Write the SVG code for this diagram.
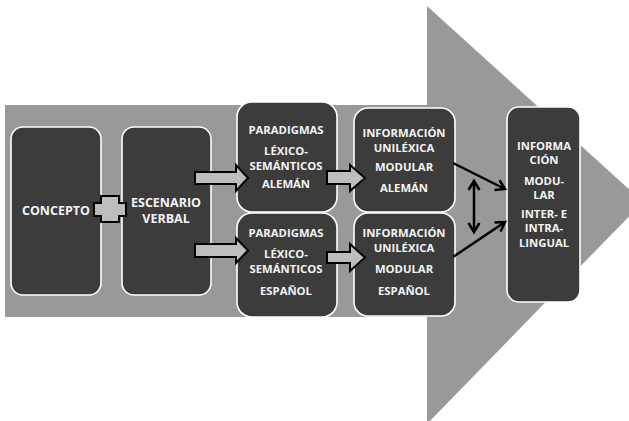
<svg xmlns="http://www.w3.org/2000/svg" width="629" height="421" viewBox="0 0 629 421">
<style>
.bg{fill:#999999}
.node{fill:#3c3c3c;stroke:#ffffff;stroke-width:1.6}
.t{font-family:"Open Sans","Liberation Sans",sans-serif;font-weight:700;fill:#f4f4f4;text-anchor:middle;font-size:11.3px}
.tl{font-size:12.5px}
.blk{fill:#bdbdbd;stroke:#000;stroke-width:2;stroke-linejoin:miter}
.con{fill:none;stroke:#000;stroke-width:2.5}
</style>
<defs>
<marker id="chev" markerUnits="userSpaceOnUse" markerWidth="14" markerHeight="14" refX="11" refY="7" orient="auto-start-reverse">
<path d="M2,1.5 L11,7 L2,12.5" fill="none" stroke="#000" stroke-width="2.5"/>
</marker>
</defs>
<g id="background">
<rect class="bg" x="5" y="105" width="423" height="212"/>
<polygon class="bg" points="427,6 643,202 427,424"/>
</g>
<g id="concepto">
<rect class="node" x="11" y="127" width="90" height="168" rx="12"/>
<text class="t tl" x="56" y="215">CONCEPTO</text>
</g>
<g id="escenario">
<rect class="node" x="122" y="127" width="89" height="168" rx="12"/>
<text class="t tl" x="166" y="207">ESCENARIO</text>
<text class="t tl" x="166" y="223">VERBAL</text>
</g>
<g id="paradigmas-aleman">
<rect class="node" x="237" y="102" width="100" height="110" rx="15"/>
<text class="t" x="286" y="134">PARADIGMAS</text>
<text class="t" x="286" y="155">LÉXICO-</text>
<text class="t" x="286" y="170">SEMÁNTICOS</text>
<text class="t" x="286" y="188">ALEMÁN</text>
</g>
<g id="paradigmas-espanol">
<rect class="node" x="237" y="213" width="100" height="104" rx="15"/>
<text class="t" x="286" y="237">PARADIGMAS</text>
<text class="t" x="286" y="258">LÉXICO-</text>
<text class="t" x="286" y="273">SEMÁNTICOS</text>
<text class="t" x="286" y="295">ESPAÑOL</text>
</g>
<g id="info-aleman">
<rect class="node" x="354" y="108" width="101" height="104" rx="14"/>
<text class="t" x="404" y="137">INFORMACIÓN</text>
<text class="t" x="404" y="152">UNILÉXICA</text>
<text class="t" x="404" y="171">MODULAR</text>
<text class="t" x="404" y="192">ALEMÁN</text>
</g>
<g id="info-espanol">
<rect class="node" x="354" y="213" width="101" height="103" rx="14"/>
<text class="t" x="404" y="237">INFORMACIÓN</text>
<text class="t" x="404" y="252">UNILÉXICA</text>
<text class="t" x="404" y="273">MODULAR</text>
<text class="t" x="404" y="295">ESPAÑOL</text>
</g>
<g id="info-inter-intra">
<rect class="node" x="507" y="107" width="73" height="195" rx="12"/>
<text class="t" x="544" y="150">INFORMA</text>
<text class="t" x="544" y="164">CIÓN</text>
<text class="t" x="544" y="185">MODU-</text>
<text class="t" x="544" y="199">LAR</text>
<text class="t" x="544" y="218">INTER- E</text>
<text class="t" x="544" y="232">INTRA-</text>
<text class="t" x="544" y="247">LINGUAL</text>
</g>
<g id="connectors">
<polygon class="blk" points="94,203 101,203 101,196 119,196 119,203 126,203 126,216 119,216 119,222 101,222 101,216 94,216"/>
<polygon class="blk" points="195,172 236,172 236,165 248,178 236,191 236,184 195,184"/>
<polygon class="blk" points="195,244 236,244 236,238 248,250.5 236,263 236,257 195,257"/>
<polygon class="blk" points="327,171 350,171 350,165 365,178 350,191 350,184 327,184"/>
<polygon class="blk" points="327,252 350,252 350,244 365,257.5 350,271 350,263 327,263"/>
<line class="con" x1="453" y1="163" x2="505" y2="189" marker-end="url(#chev)"/>
<line class="con" x1="453" y1="257" x2="505" y2="222" marker-end="url(#chev)"/>
<line class="con" x1="474" y1="181" x2="474" y2="232" marker-start="url(#chev)" marker-end="url(#chev)"/>
</g>
</svg>
